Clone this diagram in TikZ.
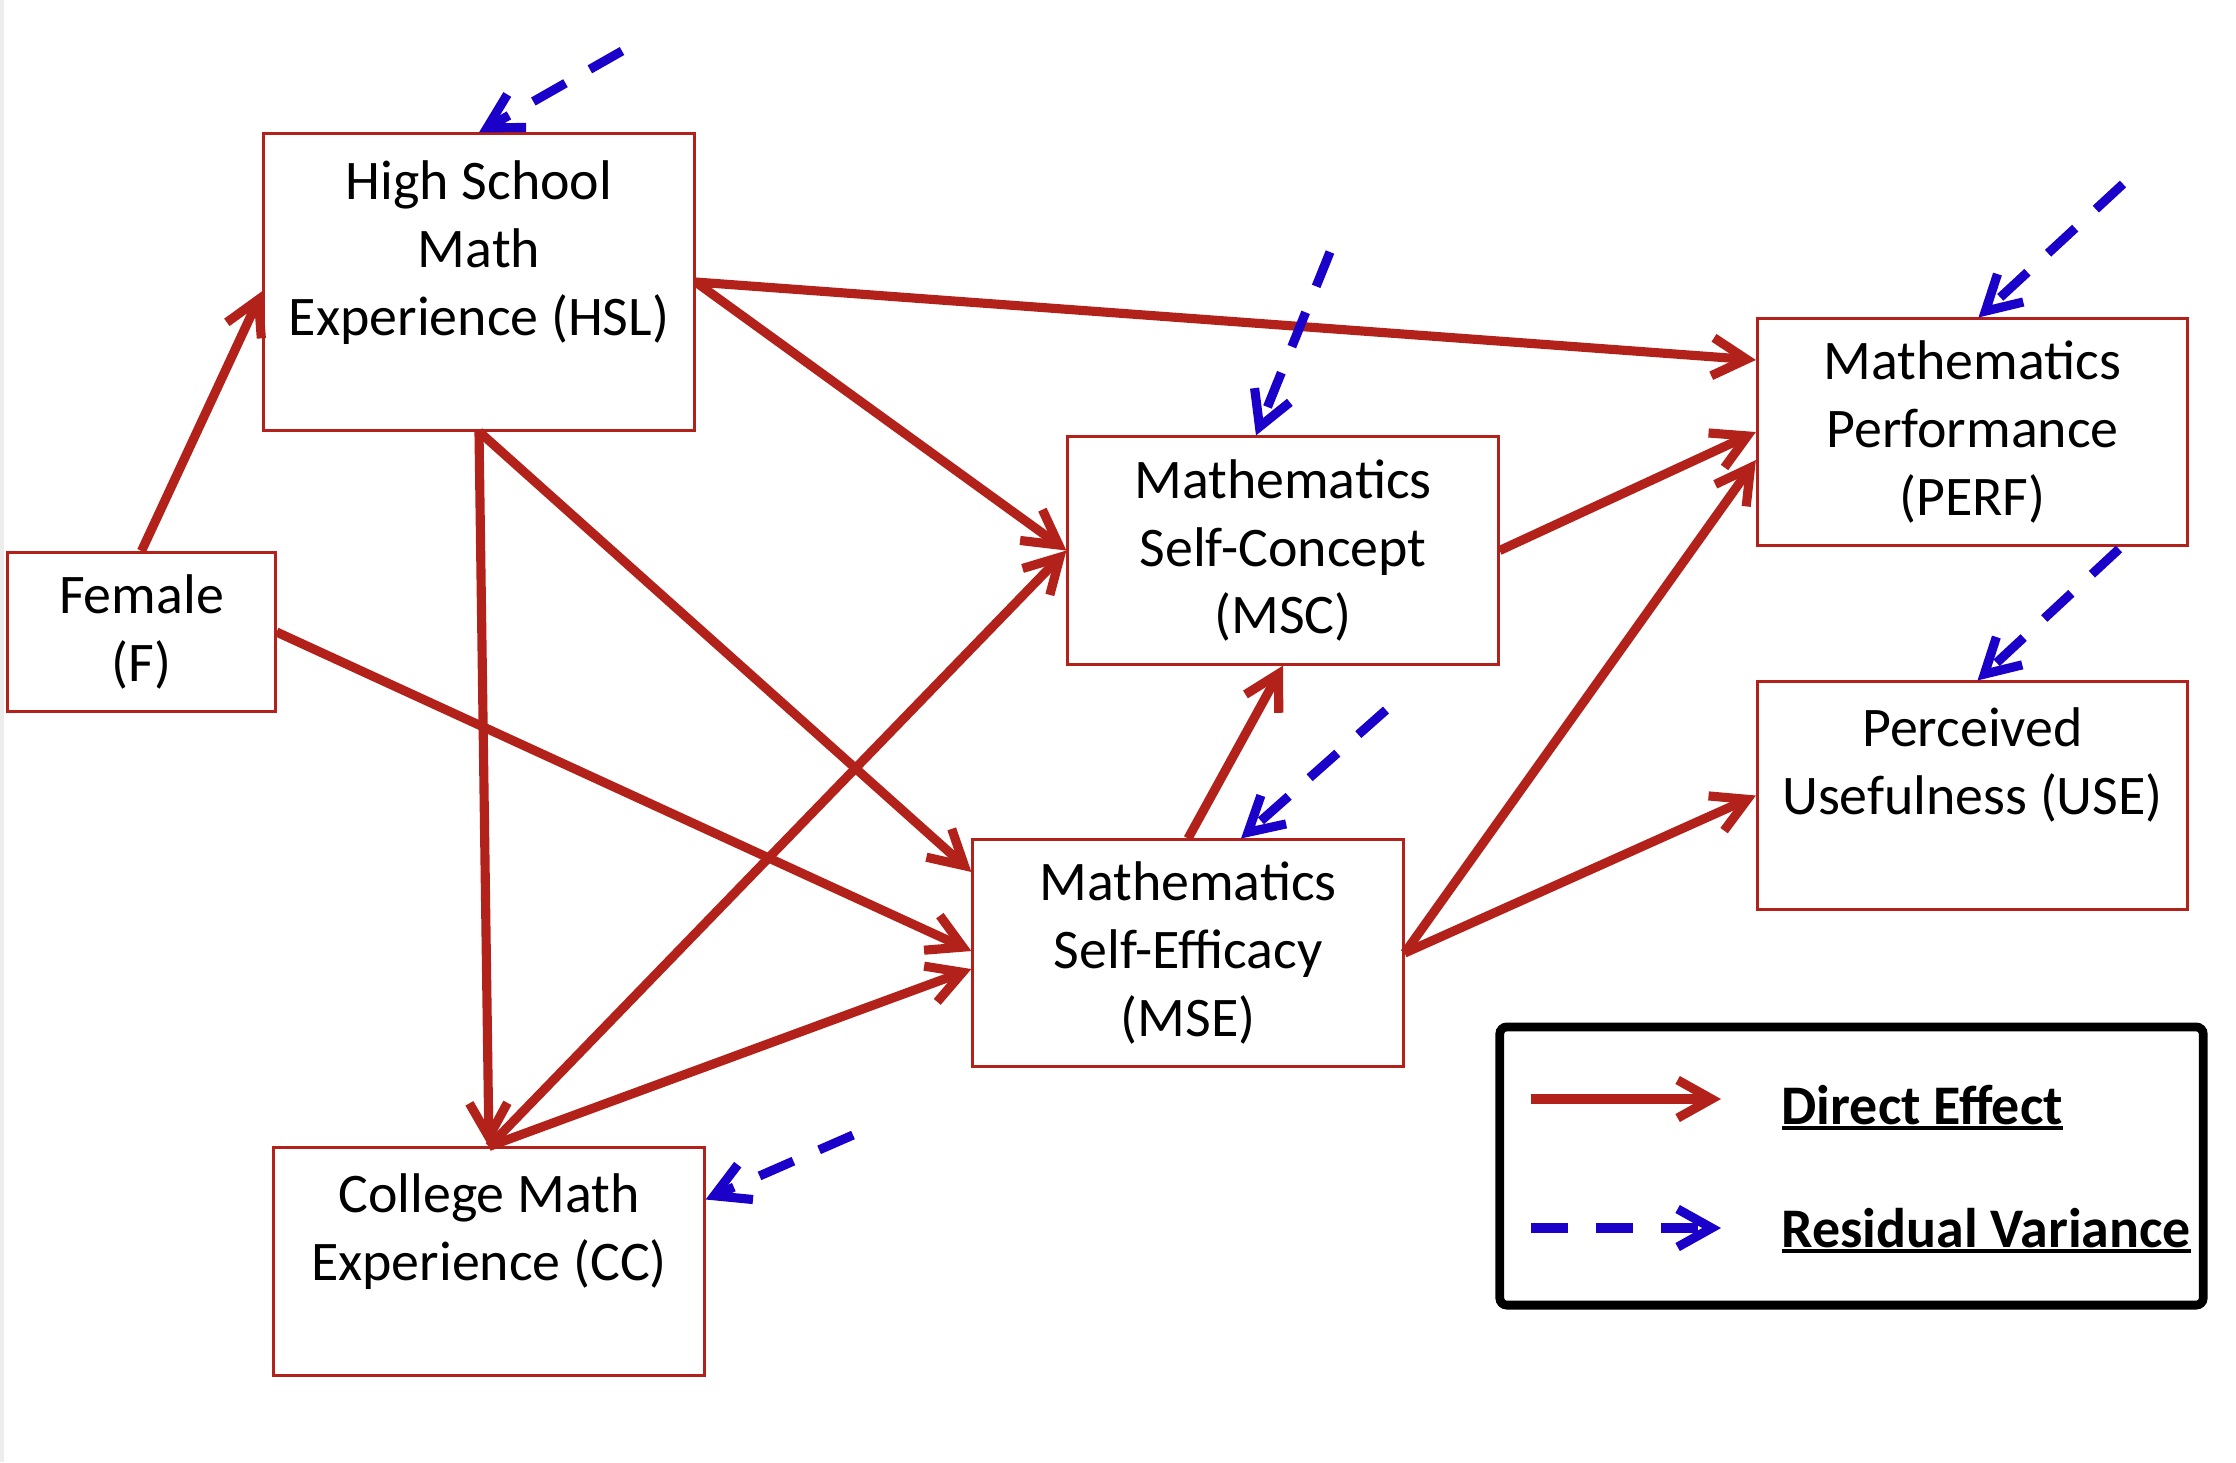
\documentclass[tikz,border=0pt]{standalone}
\usepackage{fontspec}
\setmainfont{Carlito}
\usetikzlibrary{arrows.meta}
\definecolor{dred}{RGB}{178,34,26}
\definecolor{dblue}{RGB}{26,0,200}
\newcommand\ulx[1]{\leavevmode\setbox0\hbox{#1}\rlap{\rule[-1.6pt]{\wd0}{0.9pt}}\box0}
\begin{document}
\begin{tikzpicture}[x=0.01cm,y=-0.01cm,
  box/.style={draw=dred,line width=0.85pt,rectangle,align=center,minimum width=4.3cm,minimum height=2.27cm,inner sep=0pt,font=\fontsize{15.9pt}{19.3pt}\selectfont},
  tipbarb/.style={-{Straight Barb[length=0.34cm,width=0.38cm]}},
  eff/.style={draw=dred,line width=2.6pt,tipbarb},
  res/.style={draw=dblue,line width=2.6pt,dash pattern=on 0.37cm off 0.28cm,tipbarb},
  legtext/.style={anchor=base west,inner sep=0pt,font=\fontsize{15.9pt}{19.3pt}\selectfont\bfseries}]
\useasboundingbox (0,0) rectangle (2236,1462);
\fill[black!7] (0,0) rectangle (4,1462);

% boxes
\node[box,minimum height=2.96cm] (hsl) at (479,282) {High School\\Math\\Experience (HSL)\\[-0.2cm]\strut};
\node[box,minimum width=2.67cm,minimum height=1.59cm] (f) at (141.5,632) {Female\\(F)};
\node[box] (cc) at (489,1261.5) {College Math\\Experience (CC)\\[-0.2cm]\strut};
\node[box,minimum height=2.26cm] (mse) at (1188,953) {Mathematics\\Self-Efficacy\\(MSE)};
\node[box] (msc) at (1283,550.5) {Mathematics\\Self-Concept\\(MSC)};
\node[box,minimum height=2.26cm] (perf) at (1972.5,432) {Mathematics\\Performance\\(PERF)};
\node[box] (use) at (1972.5,795.5) {Perceived\\Usefulness (USE)\\[-0.2cm]\strut};

% direct effects
\draw[eff] (f.north) -- ([yshift=-0.09cm]hsl.west);
\draw[eff] (hsl.east) -- ([yshift=0.72cm]perf.west);
\draw[eff] (hsl.east) -- (msc.west);
\draw[eff] (hsl.south) -- ([yshift=0.81cm]mse.west);
\draw[eff] (hsl.south) -- (cc.north);
\draw[eff] (f.east) -- ([yshift=0.02cm]mse.west);
\draw[eff] (cc.north) -- ([yshift=-0.16cm]mse.west);
\draw[eff] (cc.north) -- (msc.west);
\draw[eff] (mse.north) -- (msc.south);
\draw[eff] (msc.east) -- (perf.west);
\draw[eff] (mse.east) -- ([yshift=-0.28cm]perf.west);
\draw[eff] (mse.east) -- (use.west);

% residual variances
\coordinate (rhsl) at (622,51);
\coordinate (rmsc) at (1330,252);
\coordinate (rperf) at (2123,184);
\coordinate (ruse) at (2119,549);
\coordinate (rmse) at (1386,710);
\coordinate (rcc) at (853,1135);
\draw[res] (rhsl) -- (hsl.north);
\draw[res] (rmsc) -- ([xshift=-0.27cm]msc.north);
\draw[res] (rperf) -- ([xshift=0.06cm]perf.north);
\draw[res] (ruse) -- ([xshift=0.05cm]use.north);
\draw[res] (rmse) -- ([xshift=0.53cm]mse.north);
\draw[res] (rcc) -- ([yshift=0.62cm]cc.east);

% legend
\node[draw=black,line width=2.5pt,rounded corners=2pt,minimum width=7.03cm,minimum height=2.78cm,inner sep=0pt] (legend) at (1851.5,1166) {};
\coordinate (la1) at (1531,1099);
\coordinate (lb1) at (1721,1099);
\coordinate (la2) at (1531,1228);
\coordinate (lb2) at (1721,1228);
\draw[eff] (la1) -- (lb1);
\draw[res] (la2) -- (lb2);
\node[legtext] (lt1) at (1781,1124) {\ulx{Direct Effect}};
\node[legtext] (lt2) at (1781,1247) {\ulx{Residual Variance}};
\end{tikzpicture}
\end{document}
